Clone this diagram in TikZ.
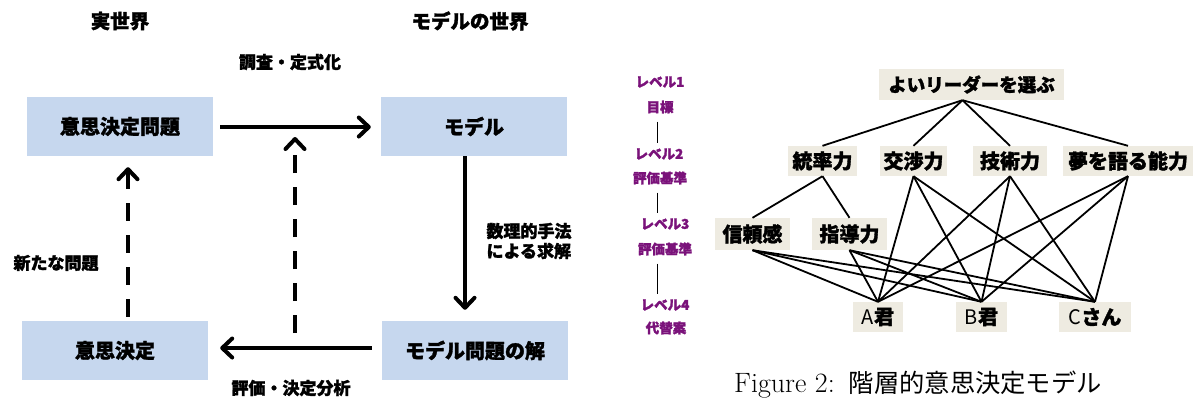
\documentclass[tikz,border=0pt]{standalone}
\usepackage{fontspec}
\newfontfamily\jp{Noto Sans CJK JP}[BoldFeatures={FakeBold=1.6}]
\usetikzlibrary{arrows.meta}
\definecolor{boxblue}{RGB}{198,215,238}
\definecolor{boxbeige}{RGB}{238,235,225}
\definecolor{lvlpurple}{RGB}{122,18,122}
\begin{document}
\begin{tikzpicture}[x=1pt,y=-1pt,
  lbox/.style={fill=boxblue, minimum width=186pt, minimum height=59pt, inner sep=0pt,
    font=\jp\bfseries\fontsize{20}{24}\selectfont},
  lbl/.style={inner sep=0pt, font=\jp\bfseries\fontsize{17}{20}\selectfont},
  head/.style={inner sep=0pt, font=\jp\bfseries\fontsize{19.5}{22}\selectfont},
  flow/.style={line width=4pt, -{Straight Barb[round,length=10pt,width=19pt]}},
  back/.style={flow, dash pattern=on 18pt off 14pt},
  rbox/.style={fill=boxbeige, inner sep=0pt, minimum height=30pt,
    font=\jp\bfseries\fontsize{20}{24}\selectfont},
  link/.style={line width=1.8pt},
  lvl/.style={inner sep=0pt, text=lvlpurple, font=\jp\bfseries\fontsize{13.5}{15}\selectfont},
  vline/.style={line width=0.8pt}
]
\useasboundingbox (0,0) rectangle (1200,400);

% ---------- left diagram ----------
\node[head] (hreal) at (120,21) {実世界};
\node[head] (hmodel) at (470,21) {モデルの世界};
\node[lbl] (lform) at (290,62) {調査・定式化};

\node[lbox] (prob) at (120,126.5) {意思決定問題};
\node[lbox] (model) at (474,126.5) {モデル};
\node[lbox] (dec) at (115,350.5) {意思決定};
\node[lbox] (sol) at (475,350.5) {モデル問題の解};

\node[lbl, align=left, font=\jp\bfseries\fontsize{17}{20}\selectfont] (lsolve) at (529,241) {数理的手法\\による求解};
\node[lbl] (lnew) at (56,263) {新たな問題};
\node[lbl] (leval) at (291,388) {評価・決定分析};

\draw[flow, shorten <=7pt, shorten >=10pt] (prob.east |- 0,127) -- (model.west |- 0,127);
\draw[flow, shorten >=11pt] ([xshift=-9pt]model.south) -- ([xshift=-10pt]sol.north);
\draw[flow, shorten <=10pt, shorten >=12pt] (sol.west |- 0,348) -- (dec.east |- 0,348);
\draw[back, shorten <=4pt, shorten >=11pt] ([xshift=13pt]dec.north) -- ([xshift=8pt]prob.south);
\coordinate (fb0) at (295,333);
\coordinate (fb1) at (295,137);
\draw[back] (fb0) -- (fb1);

% ---------- right diagram ----------
\node[lvl] (lv1a) at (660,82) {レベル1};
\node[lvl] (lv1b) at (660,107) {目標};
\node[lvl] (lv2a) at (659,154) {レベル2};
\node[lvl] (lv2b) at (660,178) {評価基準};
\node[lvl] (lv3a) at (665,224) {レベル3};
\node[lvl] (lv3b) at (665,249) {評価基準};
\node[lvl] (lv4a) at (665,305) {レベル4};
\node[lvl] (lv4b) at (666,328) {代替案};
\coordinate (lvx) at (657,0);
\draw[vline, shorten <=8pt, shorten >=5pt] (lv1b.south -| lvx) -- (lv2a.north -| lvx);
\draw[vline, shorten <=8pt, shorten >=5pt] (lv2b.south -| lvx) -- (lv3a.north -| lvx);
\draw[vline, shorten <=8pt, shorten >=5pt] (lv3b.south -| lvx) -- (lv4a.north -| lvx);

\node[rbox, minimum width=185pt, minimum height=31pt, font=\jp\bfseries\fontsize{18.5}{22}\selectfont] (goal) at (971.5,84.5) {よいリーダーを選ぶ};
\node[rbox, minimum width=69pt] (c1) at (822.5,161) {統率力};
\node[rbox, minimum width=67pt] (c2) at (913.5,161) {交渉力};
\node[rbox, minimum width=74pt] (c3) at (1010,161) {技術力};
\node[rbox, minimum width=130pt] (c4) at (1128,161) {夢を語る能力};
\node[rbox, minimum width=75pt, minimum height=32pt] (s1) at (752.5,234) {信頼感};
\node[rbox, minimum width=75pt, minimum height=32pt] (s2) at (849.5,234) {指導力};
\node[rbox, minimum width=50pt] (la) at (878,317) {{\mdseries A}君};
\node[rbox, minimum width=51pt] (lb) at (981.5,317) {{\mdseries B}君};
\node[rbox, minimum width=72pt] (lc) at (1095,317) {{\mdseries C}さん};

\foreach \c in {c1,c2,c3,c4}
  \draw[link] ([xshift=-9pt]goal.south) -- (\c.north);
\foreach \s in {s1,s2}
  \draw[link] (c1.south) -- (\s.north);
\foreach \p in {c2,c3,c4,s1,s2}
  \foreach \l in {la,lb,lc}
    \draw[link] (\p.south) -- (\l.north);

% ---------- caption ----------
\node[anchor=base west, inner sep=0pt, font=\fontsize{28}{32}\selectfont] (cap) at (734,392)
  {Figure 2:\hspace{0.5em}{\jp\fontsize{25.3}{30}\selectfont 階層的意思決定モデル}};
\end{tikzpicture}
\end{document}
